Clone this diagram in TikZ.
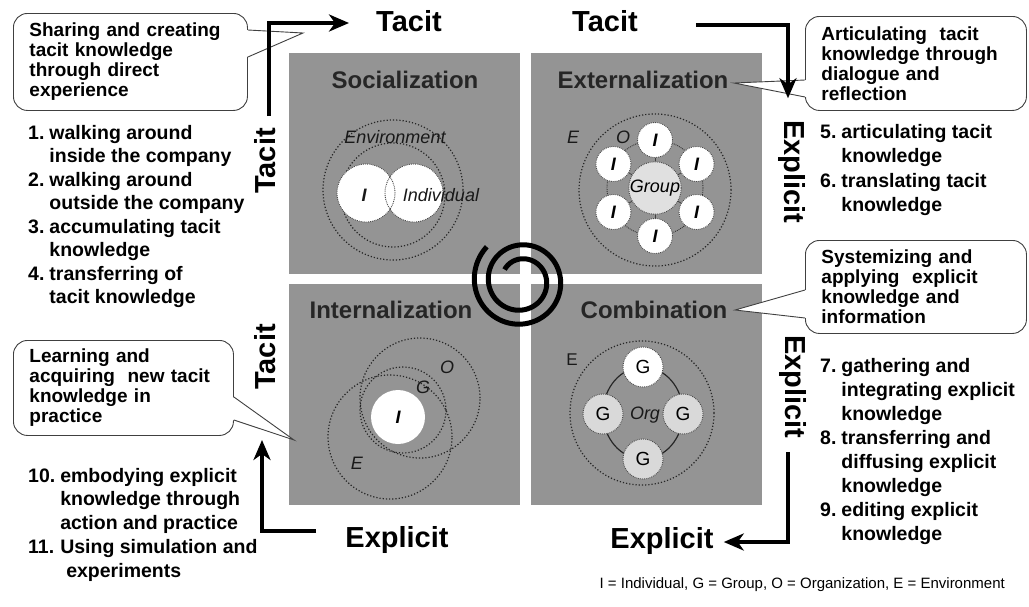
\documentclass[tikz,border=0pt]{standalone}
\usepackage{fontspec}
\setmainfont{Liberation Sans}
\usetikzlibrary{arrows.meta,calc}

\tikzset{
  panel/.style={fill=black!42, inner sep=0pt, minimum width=231pt, minimum height=221pt, anchor=north west},
  qtitle/.style={font=\fontsize{24}{26}\selectfont\bfseries, text=black!85, inner sep=0pt},
  axislabel/.style={font=\fontsize{29}{30}\selectfont\bfseries, inner sep=0pt},
  bigarrow/.style={line width=4.5pt, -{Stealth[length=20pt,width=17pt,inset=6pt]}},
  callout/.style={draw=black!75, line width=0.9pt, fill=white, rounded corners=14pt, anchor=north west,
    align=left, inner xsep=16pt, font=\fontsize{19}{20}\selectfont\bfseries},
  tailline/.style={draw=black!75, line width=0.9pt},
  steplist/.style={font=\fontsize{19.5}{23.5}\selectfont\bfseries, anchor=base west, inner sep=0pt},
  ring/.style={draw=black!85, dotted, line width=1.2pt},
  indiv/.style={circle, fill=white, draw=black!70, densely dotted, line width=0.9pt, minimum size=35pt,
    inner sep=0pt, font=\fontsize{18}{18}\selectfont\bfseries\itshape},
  gnode/.style={circle, draw=black!70, densely dotted, line width=0.9pt, minimum size=40pt,
    inner sep=0pt, font=\fontsize{19}{19}\selectfont},
  lbl/.style={font=\fontsize{18}{18}\selectfont\itshape, text=black!90, inner sep=0pt},
}

\begin{document}
\begin{tikzpicture}[x=1pt, y=-1pt]
  \useasboundingbox (0,0) rectangle (1029,606);

  % quadrants
  \node[panel] (soc) at (289,53) {};
  \node[panel] (ext) at (531,53) {};
  \node[panel] (intl) at (289,284) {};
  \node[panel] (comb) at (531,284) {};
  \node[qtitle] (socT) at (405,80) {Socialization};
  \node[qtitle] (extT) at (643,80) {Externalization};
  \node[qtitle] (intlT) at (391,310) {Internalization};
  \node[qtitle] (combT) at (654,310) {Combination};

  % socialization
  \draw[ring] (393,190) circle (70pt);
  \draw[ring] (393,195) circle (52pt);
  \fill[white] (366,193) circle (29pt) (414,193) circle (29pt);
  \draw[black!70, densely dotted, line width=0.9pt] (366,193) circle (29pt) (414,193) circle (29pt);
  \node[lbl] (envS) at (395,137) {Environment};
  \node[lbl, font=\fontsize{18}{18}\selectfont\bfseries\itshape] (indI) at (364,195) {I};
  \node[lbl] (indS) at (441,195) {Individual};

  % externalization
  \draw[ring] (655,190) circle (76pt);
  \draw[black!80, densely dotted, line width=0.9pt] (655,188) circle (48pt);
  \node[gnode, fill=black!12, minimum size=46pt, font=\fontsize{18}{18}\selectfont\itshape] (grp) at (655,188) {Group};
  \foreach \a/\n in {90/1,30/2,-30/3,-90/4,-150/5,150/6} {
    \node[indiv] (i\n) at ($(grp.center)+(\a:48pt)$) {I};
    \draw[black!75, line width=0.8pt] (grp) -- (i\n);
  }
  \node[lbl] (eExt) at (573,137) {E};
  \node[lbl] (oExt) at (623,137) {O};

  % internalization
  \draw[ring] (390,437) circle (62pt);
  \draw[ring] (420,398) circle (60pt);
  \draw[ring] (403,410) circle (43pt);
  \node[indiv, minimum size=54pt, draw=none] (iIn) at (398,417) {I};
  \node[lbl] (oIn) at (447,367) {O};
  \node[lbl] (gIn) at (423,387) {G};
  \node[lbl] (eIn) at (357,463) {E};

  % combination
  \draw[ring] (642,413) circle (72pt);
  \draw[black!85, line width=1.2pt] (643,413) ellipse (40pt and 46pt);
  \node[gnode, fill=white] (gN) at (643,367) {G};
  \node[gnode, fill=black!15] (gW) at (603,414) {G};
  \node[gnode, fill=black!15] (gE) at (683,414) {G};
  \node[gnode, fill=black!15] (gS) at (643,459) {G};
  \node[lbl] (org) at (645,415) {Org};
  \node[lbl, font=\fontsize{17}{17}\selectfont] (eComb) at (572,360) {E};

  % spiral
  \begin{scope}[shift={(521,281)}, yscale=-1]
    \draw[line width=5pt] plot[domain=0:730, samples=250, smooth] ({145-\x}:{20+\x*14/360});
  \end{scope}

  % callouts
  \node[callout, minimum width=234pt, minimum height=97pt, text width=202pt] (coSoc) at (13,13)
    {Sharing and creating\\tacit knowledge\\through direct\\experience};
  \coordinate (tipSoc) at (303,33);
  \fill[white] ($(coSoc.north east)+(-1,17)$) -- (tipSoc) -- ($(coSoc.north east)+(-1,44)$) -- cycle;
  \draw[tailline] ($(coSoc.north east)+(0,17)$) -- (tipSoc) -- ($(coSoc.north east)+(0,44)$);

  \node[callout, minimum width=221pt, minimum height=94pt, text width=189pt] (coExt) at (805,16)
    {Articulating\ \ tacit\\knowledge through\\dialogue and\\reflection};
  \coordinate (tipExt) at (734,83);
  \fill[white] ($(coExt.north west)+(1,64)$) -- (tipExt) -- ($(coExt.north west)+(1,81)$) -- cycle;
  \draw[tailline] ($(coExt.north west)+(0,64)$) -- (tipExt) -- ($(coExt.north west)+(0,81)$);

  \node[callout, minimum width=221pt, minimum height=93pt, text width=189pt] (coComb) at (805,240)
    {Systemizing and\\applying\ \ explicit\\knowledge and\\information};
  \coordinate (tipComb) at (735,310);
  \fill[white] ($(coComb.north west)+(1,50)$) -- (tipComb) -- ($(coComb.north west)+(1,78)$) -- cycle;
  \draw[tailline] ($(coComb.north west)+(0,50)$) -- (tipComb) -- ($(coComb.north west)+(0,78)$);

  \node[callout, minimum width=220pt, minimum height=95pt, text width=188pt] (coIntl) at (13,340)
    {Learning and\\acquiring\ \ new tacit\\knowledge in\\practice};
  \coordinate (tipIntl) at (294,440);
  \fill[white] ($(coIntl.north east)+(-1,57)$) -- (tipIntl) -- ($(coIntl.north east)+(-1,80)$) -- cycle;
  \draw[tailline] ($(coIntl.north east)+(0,57)$) -- (tipIntl) -- ($(coIntl.north east)+(0,80)$);

  % step lists
  \node[steplist] (listSoc) at (28,139) {\begin{tabular}[t]{@{}l@{\hspace{5pt}}l@{}}
    1. & walking around\\ & inside the company\\
    2. & walking around\\ & outside the company\\
    3. & accumulating tacit\\ & knowledge\\
    4. & transferring of\\ & tacit knowledge\end{tabular}};
  \node[steplist, font=\fontsize{19.5}{24.5}\selectfont\bfseries] (listExt) at (820,138) {\begin{tabular}[t]{@{}l@{\hspace{5pt}}l@{}}
    5. & articulating tacit\\ & knowledge\\
    6. & translating tacit\\ & knowledge\end{tabular}};
  \node[steplist, font=\fontsize{19.5}{24}\selectfont\bfseries] (listComb) at (820,372) {\begin{tabular}[t]{@{}l@{\hspace{5pt}}l@{}}
    7. & gathering and\\ & integrating explicit\\ & knowledge\\
    8. & transferring and\\ & diffusing explicit\\ & knowledge\\
    9. & editing explicit\\ & knowledge\end{tabular}};
  \node[steplist, font=\fontsize{19.5}{23.75}\selectfont\bfseries] (listIntl) at (28,482) {\begin{tabular}[t]{@{}l@{\hspace{5pt}}l@{}}
    10. & embodying explicit\\ & knowledge through\\ & action and practice\\
    11. & Using simulation and\\ & \hspace{6pt}experiments\end{tabular}};

  % axis labels
  \node[axislabel] (tacitN1) at (409,21) {Tacit};
  \node[axislabel] (tacitN2) at (605,21) {Tacit};
  \node[axislabel, rotate=-90] (explE1) at (792,172) {Explicit};
  \node[axislabel, rotate=-90] (explE2) at (793,387) {Explicit};
  \node[axislabel] (explS2) at (662,541) {Explicit};
  \node[axislabel] (explS1) at (397,540) {Explicit};
  \node[axislabel, rotate=90] (tacitW2) at (265,357) {Tacit};
  \node[axislabel, rotate=90] (tacitW1) at (265,161) {Tacit};

  % cycle arrows
  \draw[bigarrow] ($(tacitW1.east)+(4,-12)$) |- ($(tacitN1.west)+(-27,2)$);
  \draw[bigarrow] ($(tacitN2.east)+(58,4)$) -| ($(explE1.west)+(-4,-22)$);
  \draw[bigarrow] ($(explE2.east)+(-5,13)$) |- ($(explS2.east)+(10,1)$);
  \draw[bigarrow] ($(explS1.west)+(-29,-9)$) -| ($(tacitW2.west)+(-3,50)$);

  \node[font=\fontsize{15}{15}\selectfont, anchor=base east, inner sep=0pt] (legend) at (1005,588)
    {I = Individual, G = Group, O = Organization, E = Environment};
\end{tikzpicture}
\end{document}
